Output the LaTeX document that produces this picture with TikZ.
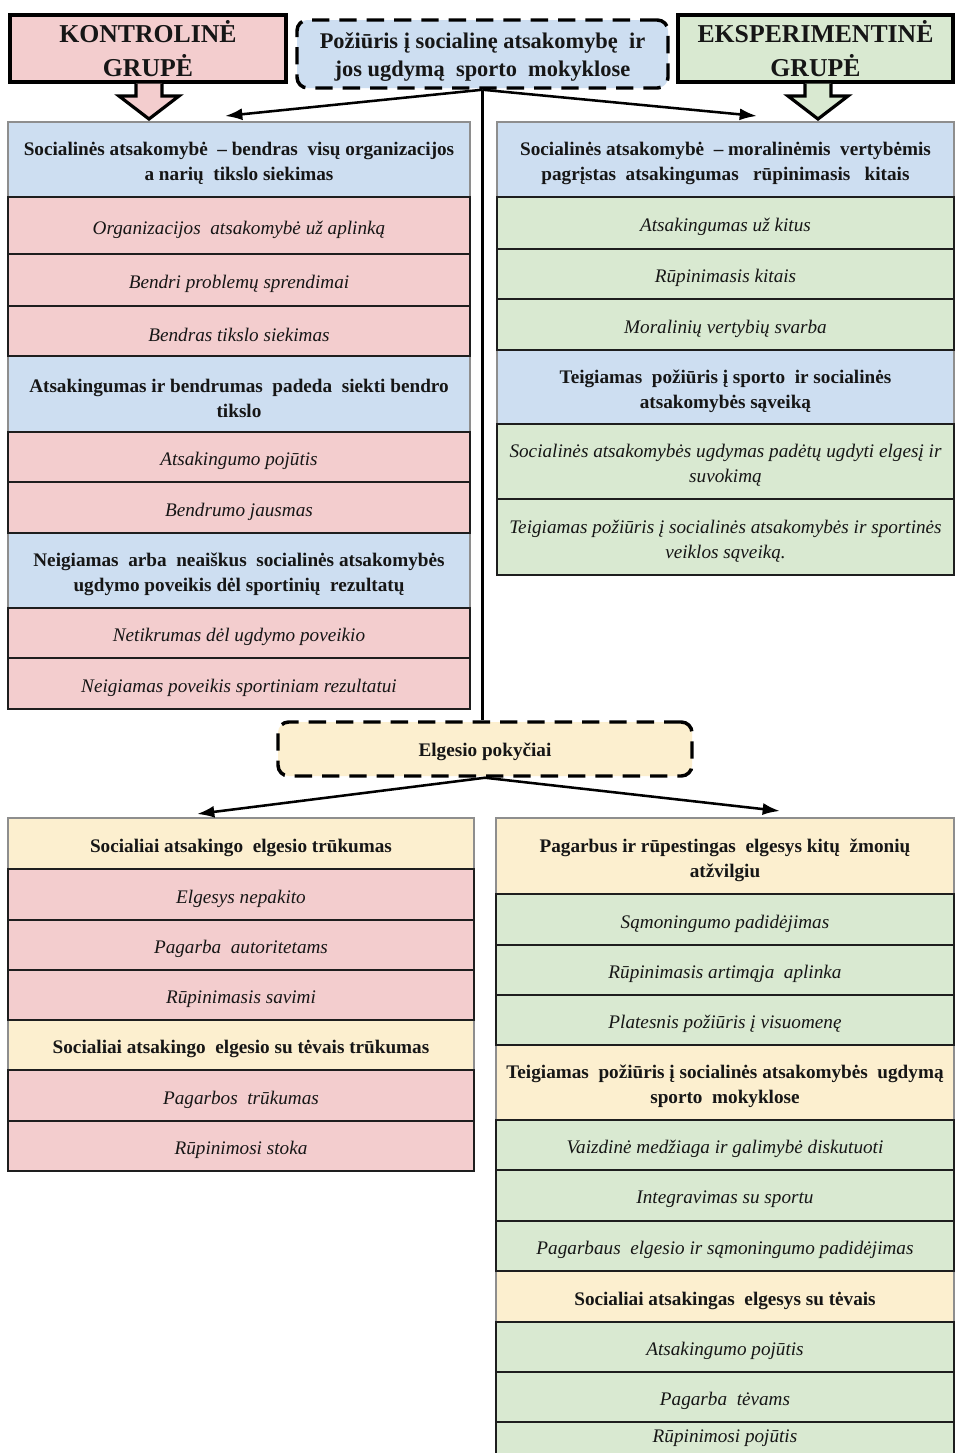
\documentclass[tikz,border=0pt]{standalone}
\usepackage{fontspec}
\setmainfont{Liberation Serif}
\usetikzlibrary{arrows.meta}

\definecolor{pinkc}{HTML}{F3CDCE}
\definecolor{bluec}{HTML}{CDDEF1}
\definecolor{greenc}{HTML}{D9E9D1}
\definecolor{yellowc}{HTML}{FCEFCF}
\definecolor{edge}{HTML}{1E1E1E}
\definecolor{grayedge}{HTML}{8E8E8E}
\definecolor{ink}{HTML}{161616}

\newcommand{\cellfont}{\fontsize{14.4}{18.75}\selectfont}

\tikzset{
  % span=x1,y1,x2,y2 : a box given by two corners in drawing units
  span/.style n args={4}{at={({(#1+#3)/2},{(#2+#4)/2})}, anchor=center,
    minimum width={(#3-#1)*0.75pt}, minimum height={(#4-#2)*0.75pt}},
  cell/.style={rectangle, inner sep=0pt, line width=1.5pt},
  celltext/.style={inner sep=0pt, align=center, text=ink},
  pinkcell/.style={cell, fill=pinkc, draw=edge},
  greencell/.style={cell, fill=greenc, draw=edge},
  bluehead/.style={cell, fill=bluec, draw=grayedge, line width=2.2pt},
  yellowhead/.style={cell, fill=yellowc, draw=grayedge, line width=2.2pt},
  pinkcell text/.style={celltext, font=\cellfont\itshape},
  greencell text/.style={celltext, font=\cellfont\itshape},
  bluehead text/.style={celltext, font=\cellfont\bfseries},
  yellowhead text/.style={celltext, font=\cellfont\bfseries},
  groupbox/.style={rectangle, inner sep=0pt, align=center, text=ink, draw=black,
    line width=2.4pt, font=\fontsize{19.3}{25}\selectfont\bfseries},
  dashbox/.style={rectangle, inner sep=0pt, draw=black, line width=2.6pt,
    dash pattern=on 13pt off 7.5pt, rounded corners=8pt},
  blockarrow/.style={draw=black, line width=2.4pt, line join=miter},
  conn/.style={draw=black, line width=1.9pt, -{Latex[length=13pt,width=9pt]}},
  trunk/.style={draw=black, line width=1.9pt},
}

% \cell{style}{name}{x1}{y1}{x2}{y2}{text}: a table cell and its centred text
\newcommand{\cell}[7]{%
  \node[#1, span={#3}{#4}{#5}{#6}] (#2) {};
  \node[#1 text] (#2-t) at ([yshift=-3pt]#2.center) {#7};
}

\begin{document}
\begin{tikzpicture}[x=0.75pt, y=-0.75pt]
\useasboundingbox (0,0) rectangle (955,1453);
\fill[white] (0,0) rectangle (955,1453);
\clip (0,0) rectangle (955,1453);

% ---- group titles and their block arrows
\node[groupbox, fill=pinkc, span={10}{15}{286}{82}] (kg) {KONTROLINĖ\\GRUPĖ};
\node[groupbox, fill=greenc, span={678}{15}{953}{82}] (eg) {EKSPERIMENTINĖ\\GRUPĖ};
\filldraw[blockarrow, fill=pinkc]
  (kg.south -| 136,0) -- (136,96) -- (119,96) -- (149,119) -- (179,96) -- (162,96) -- (kg.south -| 162,0);
\filldraw[blockarrow, fill=greenc]
  (eg.south -| 805,0) -- (805,96) -- (788,96) -- (818,119) -- (848,96) -- (831,96) -- (eg.south -| 831,0);

% ---- central question
\node[dashbox, fill=bluec, span={297}{20}{668}{88}] (pz) {};
\node[celltext, font=\fontsize{16.8}{21}\selectfont\bfseries] (pz-t) at ([yshift=-2.5pt]pz.center)
  {Požiūris į socialinę atsakomybę \ ir\\jos ugdymą \ sporto \ mokyklose};

% ---- control group column (attitudes)
\cell{bluehead}{lA}{8}{122}{470}{197}{Socialinės atsakomybė \ – bendras \ visų organizacijos\\a narių \ tikslo siekimas}
\cell{bluehead}{lB}{8}{356}{470}{432}{Atsakingumas ir bendrumas \ padeda \ siekti bendro\\tikslo}
\cell{bluehead}{lC}{8}{533}{470}{608}{Neigiamas \ arba \ neaiškus \ socialinės atsakomybės\\ugdymo poveikis dėl sportinių \ rezultatų}
\cell{pinkcell}{lA1}{8}{197}{470}{254}{Organizacijos \ atsakomybė už aplinką}
\cell{pinkcell}{lA2}{8}{254}{470}{306}{Bendri problemų sprendimai}
\cell{pinkcell}{lA3}{8}{306}{470}{356}{Bendras tikslo siekimas}
\cell{pinkcell}{lB1}{8}{432}{470}{482}{Atsakingumo pojūtis}
\cell{pinkcell}{lB2}{8}{482}{470}{533}{Bendrumo jausmas}
\cell{pinkcell}{lC1}{8}{608}{470}{658}{Netikrumas dėl ugdymo poveikio}
\cell{pinkcell}{lC2}{8}{658}{470}{709}{Neigiamas poveikis sportiniam rezultatui}

% ---- experimental group column (attitudes)
\cell{bluehead}{rA}{497}{122}{954}{197}{Socialinės atsakomybė \ – moralinėmis \ vertybėmis\\pagrįstas \ atsakingumas \ \ rūpinimasis \ \ kitais}
\cell{bluehead}{rB}{497}{350}{954}{424}{Teigiamas \ požiūris į sporto \ ir socialinės\\atsakomybės sąveiką}
\cell{greencell}{rA1}{497}{197}{954}{249}{Atsakingumas už kitus}
\cell{greencell}{rA2}{497}{249}{954}{299}{Rūpinimasis kitais}
\cell{greencell}{rA3}{497}{299}{954}{350}{Moralinių vertybių svarba}
\cell{greencell}{rB1}{497}{424}{954}{499}{Socialinės atsakomybės ugdymas padėtų ugdyti elgesį ir\\suvokimą}
\cell{greencell}{rB2}{497}{499}{954}{575}{Teigiamas požiūris į socialinės atsakomybės ir sportinės\\veiklos sąveiką.}

% ---- behaviour change
\node[dashbox, fill=yellowc, span={278}{722}{692}{776}] (elg) {};
\node[celltext, font=\cellfont\bfseries] (elg-t) at ([yshift=-2.5pt]elg.center) {Elgesio pokyčiai};

% ---- control group column (behaviour)
\cell{yellowhead}{lD}{8}{818}{474}{869}{Socialiai atsakingo \ elgesio trūkumas}
\cell{yellowhead}{lE}{8}{1020}{474}{1070}{Socialiai atsakingo \ elgesio su tėvais trūkumas}
\cell{pinkcell}{lD1}{8}{869}{474}{920}{Elgesys nepakito}
\cell{pinkcell}{lD2}{8}{920}{474}{970}{Pagarba \ autoritetams}
\cell{pinkcell}{lD3}{8}{970}{474}{1020}{Rūpinimasis savimi}
\cell{pinkcell}{lE1}{8}{1070}{474}{1121}{Pagarbos \ trūkumas}
\cell{pinkcell}{lE2}{8}{1121}{474}{1171}{Rūpinimosi stoka}

% ---- experimental group column (behaviour)
\cell{yellowhead}{rD}{496}{818}{954}{894}{Pagarbus ir rūpestingas \ elgesys kitų \ žmonių\\atžvilgiu}
\cell{yellowhead}{rE}{496}{1045}{954}{1120}{Teigiamas \ požiūris į socialinės atsakomybės \ ugdymą\\sporto \ mokyklose}
\cell{yellowhead}{rF}{496}{1271}{954}{1322}{Socialiai atsakingas \ elgesys su tėvais}
\cell{greencell}{rD1}{496}{894}{954}{945}{Sąmoningumo padidėjimas}
\cell{greencell}{rD2}{496}{945}{954}{995}{Rūpinimasis artimąja \ aplinka}
\cell{greencell}{rD3}{496}{995}{954}{1045}{Platesnis požiūris į visuomenę}
\cell{greencell}{rE1}{496}{1120}{954}{1170}{Vaizdinė medžiaga ir galimybė diskutuoti}
\cell{greencell}{rE2}{496}{1170}{954}{1221}{Integravimas su sportu}
\cell{greencell}{rE3}{496}{1221}{954}{1271}{Pagarbaus \ elgesio ir sąmoningumo padidėjimas}
\cell{greencell}{rF1}{496}{1322}{954}{1372}{Atsakingumo pojūtis}
\cell{greencell}{rF2}{496}{1372}{954}{1422}{Pagarba \ tėvams}
% last cell runs past the lower edge; its text sits just inside the page
\node[greencell, span={496}{1422}{954}{1470}] (rF3) {};
\node[greencell text] (rF3-t) at ([yshift=-13pt]rF3.north) {Rūpinimosi pojūtis};

% ---- connectors
\coordinate (toL) at (225,116);
\coordinate (toR) at (757,116);
\coordinate (toLL) at (197,814);
\coordinate (toRR) at (780,811);
\draw[conn] (pz.south) -- (toL);
\draw[conn] (pz.south) -- (toR);
\draw[trunk] (pz.south) -- (pz.south |- elg.north);
\draw[conn] (elg.south) -- (toLL);
\draw[conn] (elg.south) -- (toRR);
\end{tikzpicture}
\end{document}
